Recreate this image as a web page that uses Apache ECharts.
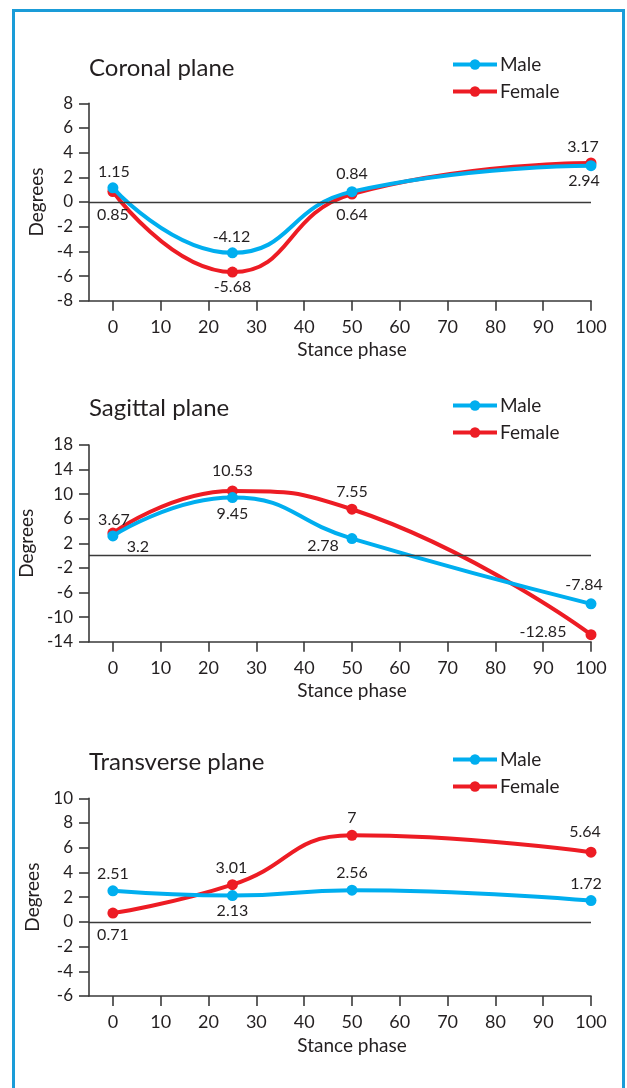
<!DOCTYPE html>
<html>
<head>
<meta charset="utf-8">
<script src="https://cdn.jsdelivr.net/npm/echarts@6/dist/echarts.min.js"></script>
<style>
  html, body { margin: 0; padding: 0; background: #fff; }
  #frame { position: absolute; left: 12px; top: 9px; width: 607px; height: 1200px; border: 3px solid #1a9cd8; border-bottom: none; box-sizing: content-box; }
  #chart { position: absolute; left: 0; top: 0; width: 627px; height: 1088px; }
</style>
</head>
<body>
<div id="frame"></div>
<div id="chart"></div>
<script>
// ---- data ----
const stancePhase = [0, 25, 50, 100];
const seriesNames = ['Male', 'Female'];
const panelTitles = ['Coronal plane', 'Sagittal plane', 'Transverse plane'];

const coronalMale = [1.15, -4.12, 0.84, 2.94];
const coronalFemale = [0.85, -5.68, 0.64, 3.17];
const sagittalMale = [3.2, 9.45, 2.78, -7.84];
const sagittalFemale = [3.67, 10.53, 7.55, -12.85];
const transverseMale = [2.51, 2.13, 2.56, 1.72];
const transverseFemale = [0.71, 3.01, 7, 5.64];

const xTicks = [0, 10, 20, 30, 40, 50, 60, 70, 80, 90, 100];
const yTicksCoronal = [-8, -6, -4, -2, 0, 2, 4, 6, 8];
const yTicksSagittal = [-14, -10, -6, -2, 2, 6, 10, 14, 18];
const yTicksTransverse = [-6, -4, -2, 0, 2, 4, 6, 8, 10];

// ---- label placement (offsets from point, px) ----
const offCoronalMale = [[1, -16], [-1, -16], [0, -18], [-7, 15]];
const offCoronalFemale = [[0, 23], [0, 15], [0, 21], [-8, -16]];
const offSagittalMale = [[25, 11], [0, 16], [-29, 7], [-7, -19]];
const offSagittalFemale = [[1, -13], [0, -20], [0, -17], [-48, -3]];
const offTransverseMale = [[0, -17], [0, 15], [0, -17], [-5, -17]];
const offTransverseFemale = [[0, 22], [-1, -17], [0, -18], [-6, -20]];

// ---- styling ----
const FONT = 'Lato';
const TXT = '#231f20';
const AX = '#3a3a3a';
const BLUE = '#00aeef';
const RED = '#ed1c24';

const grids = [
  { left: 89, width: 502, top: 103.3, height: 197.4 },
  { left: 89, width: 502, top: 445, height: 196.7 },
  { left: 89, width: 502, top: 798.3, height: 197.7 }
];
const titleTops = [56, 396, 750];
const legendTops = [55, 396, 750];
const yTickSets = [yTicksCoronal, yTicksSagittal, yTicksTransverse];
const panelData = [
  [coronalMale, coronalFemale, offCoronalMale, offCoronalFemale],
  [sagittalMale, sagittalFemale, offSagittalMale, offSagittalFemale],
  [transverseMale, transverseFemale, offTransverseMale, offTransverseFemale]
];

function buildData(vals, offs) {
  return vals.map((v, i) => ({
    value: [stancePhase[i], v],
    label: { offset: offs[i] }
  }));
}

const option = {
  backgroundColor: 'transparent',
  animation: false,
  textStyle: { fontFamily: FONT, color: TXT },
  title: panelTitles.map((t, i) => ({
    text: t, left: 89, top: titleTops[i], padding: 0,
    textStyle: { fontFamily: FONT, fontSize: 24, fontWeight: 'normal', color: TXT }
  })),
  legend: grids.map((g, i) => ({
    data: seriesNames, orient: 'vertical', left: 451, top: legendTops[i],
    padding: 0, itemWidth: 44, itemHeight: 13, itemGap: 8,
    selectedMode: false,
    lineStyle: { width: 4 },
    textStyle: { fontFamily: FONT, fontSize: 19, color: TXT, padding: [0, 0, 0, -2] }
  })),
  grid: grids,
  xAxis: grids.map((g, i) => ({
    type: 'value', gridIndex: i, min: -5, max: 100,
    name: 'Stance phase', nameLocation: 'middle', nameGap: 40,
    nameTextStyle: { fontFamily: FONT, fontSize: 19, color: TXT, padding: [0, 0, 0, 24] },
    axisLine: { show: true, onZero: false, lineStyle: { color: AX, width: 1.6 } },
    axisTick: { show: true, length: 10, customValues: xTicks, lineStyle: { color: AX, width: 1.6 } },
    axisLabel: { customValues: xTicks, margin: 17, fontFamily: FONT, fontSize: 18, color: TXT },
    splitLine: { show: false }
  })),
  yAxis: grids.map((g, i) => ({
    type: 'value', gridIndex: i,
    min: yTickSets[i][0], max: yTickSets[i][yTickSets[i].length - 1],
    name: 'Degrees', nameLocation: 'middle', nameGap: 42, nameRotate: 90,
    nameTextStyle: { fontFamily: FONT, fontSize: 19, color: TXT },
    axisLine: { show: true, onZero: false, lineStyle: { color: AX, width: 1.6 } },
    axisTick: { show: true, length: 10, customValues: yTickSets[i], lineStyle: { color: AX, width: 1.6 } },
    axisLabel: { customValues: yTickSets[i], margin: 16, fontFamily: FONT, fontSize: 17, color: TXT },
    splitLine: { show: false }
  })),
  series: []
};

panelData.forEach((p, i) => {
  const common = {
    type: 'line', xAxisIndex: i, yAxisIndex: i, smooth: 0.5,
    symbol: 'circle', symbolSize: 11,
    label: { show: true, position: 'inside', fontFamily: FONT, fontSize: 16, color: TXT,
             formatter: (d) => String(d.value[1]) },
    emphasis: { disabled: true }
  };
  option.series.push(Object.assign({}, common, {
    name: 'Female', z: 2,
    data: buildData(p[1], p[3]),
    lineStyle: { color: RED, width: 4 }, itemStyle: { color: RED },
    markLine: {
      silent: true, symbol: 'none', label: { show: false },
      lineStyle: { color: AX, width: 1.4, type: 'solid' },
      data: [{ yAxis: 0 }]
    }
  }));
  option.series.push(Object.assign({}, common, {
    name: 'Male', z: 3,
    data: buildData(p[0], p[2]),
    lineStyle: { color: BLUE, width: 4 }, itemStyle: { color: BLUE }
  }));
});

const chart = echarts.init(document.getElementById('chart'), null, { renderer: 'canvas' });
chart.setOption(option);
</script>
</body>
</html>
